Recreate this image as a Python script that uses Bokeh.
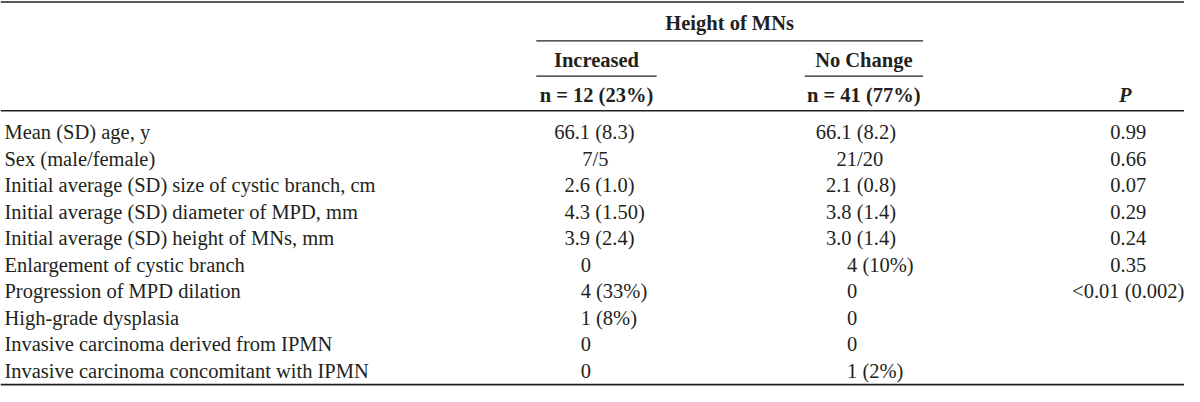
from bokeh.plotting import figure
from bokeh.models import Range1d, ColumnDataSource
from bokeh.core.properties import value
from bokeh.embed import file_html
from bokeh.resources import INLINE

# ---------------- data ----------------
group_header = "Height of MNs"
subgroups = ["Increased", "No Change"]
subgroup_n = ["n = 12 (23%)", "n = 41 (77%)"]
p_header = "P"

row_labels = [
    "Mean (SD) age, y",
    "Sex (male/female)",
    "Initial average (SD) size of cystic branch, cm",
    "Initial average (SD) diameter of MPD, mm",
    "Initial average (SD) height of MNs, mm",
    "Enlargement of cystic branch",
    "Progression of MPD dilation",
    "High-grade dysplasia",
    "Invasive carcinoma derived from IPMN",
    "Invasive carcinoma concomitant with IPMN",
]
increased = ["66.1 (8.3)", "7/5", "2.6 (1.0)", "4.3 (1.50)", "3.9 (2.4)",
             "0", "4 (33%)", "1 (8%)", "0", "0"]
no_change = ["66.1 (8.2)", "21/20", "2.1 (0.8)", "3.8 (1.4)", "3.0 (1.4)",
             "4 (10%)", "0", "0", "0", "1 (2%)"]
p_values = ["0.99", "0.66", "0.07", "0.29", "0.24", "0.35", "<0.01 (0.002)", "", "", ""]

# ---------------- layout (image coordinates) ----------------
W, H = 1184, 386
FONT = value("Liberation Serif")
FS = "20.5px"
INK = "#231f20"
digit_w = 10.4
DY = -5  # baseline correction

p = figure(width=W, height=H, output_backend="svg", toolbar_location=None,
           x_range=Range1d(-3, 1197), y_range=Range1d(401.5, -0.5),
           min_border=0, min_border_left=0, min_border_right=0,
           min_border_top=0, min_border_bottom=0)
p.axis.visible = False
p.grid.visible = False
p.outline_line_color = None
p.background_fill_color = "white"
p.border_fill_color = "white"

row0, row_step = 141.5 + DY, 27.6
row_y = [row0 + i * row_step for i in range(len(row_labels))]

def txt(xs, ys, texts, align="left", style="normal"):
    src = ColumnDataSource(dict(x=xs, y=ys, t=texts))
    p.text(x="x", y="y", text="t", source=src, text_font=FONT,
           text_font_size=FS, text_color=INK, text_align=align,
           text_baseline="alphabetic", text_font_style=style)

# row labels
txt([1] * len(row_labels), row_y, row_labels)

def place(col, dec_anchor, int_left, center):
    lx, ly, lt, cx, cy, ct = [], [], [], [], [], []
    for s, y in zip(col, row_y):
        if not s:
            continue
        if "/" in s:
            cx.append(center); cy.append(y); ct.append(s)
            continue
        head = s.split(" ")[0]
        if "." in head:
            n = len(head.split(".")[0])
            lx.append(dec_anchor - n * digit_w)
        else:
            lx.append(int_left)
        ly.append(y); lt.append(s)
    if lt:
        txt(lx, ly, lt, "left")
    if ct:
        txt(cx, cy, ct, "center")

place(increased, 579, 585, 600)
place(no_change, 844, 855, 868)

pv = [(s, y) for s, y in zip(p_values, row_y) if s]
txt([1140] * len(pv), [y for _, y in pv], [s for s, _ in pv], "center")

# headers
txt([736], [28 + DY], [group_header], "center", "bold")
txt([601, 872], [66.5 + DY] * 2, subgroups, "center", "bold")
txt([601, 872], [103 + DY] * 2, subgroup_n, "center", "bold")
txt([1137], [103 + DY], [p_header], "center", "bold italic")

# rules
p.segment(x0=[-3], y0=[1], x1=[1197], y1=[1], line_color=INK, line_width=1.6)
p.segment(x0=[-3], y0=[114.3], x1=[1197], y1=[114.3], line_color=INK, line_width=1.3)
p.segment(x0=[-3], y0=[399.5], x1=[1197], y1=[399.5], line_color=INK, line_width=1.8)
p.segment(x0=[540, 540, 812], y0=[41.5, 78.3, 78.3],
          x1=[932, 662, 932], y1=[41.5, 78.3, 78.3], line_color=INK, line_width=1.2)

open("out.html", "w").write(file_html(p, INLINE))
